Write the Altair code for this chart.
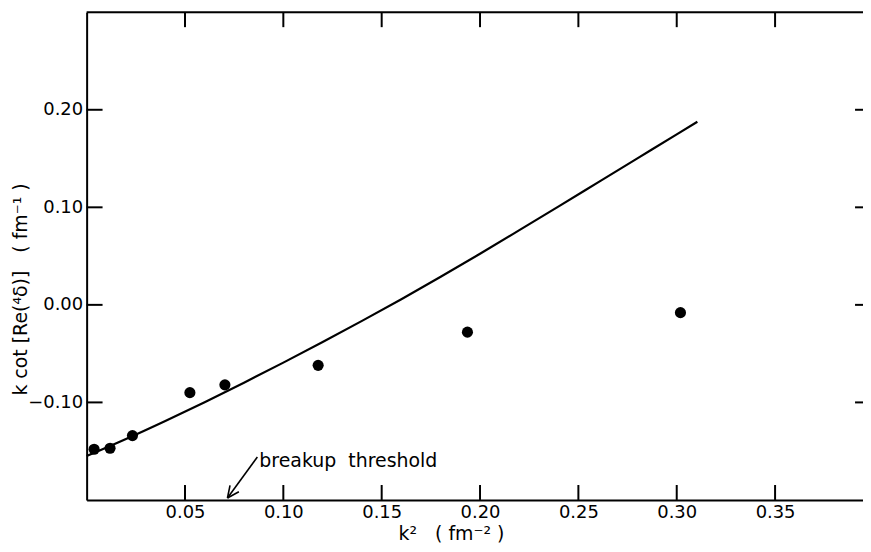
import altair as alt
import pandas as pd

# ---- data ----
pt_k2 = [0.0038, 0.0119, 0.0233, 0.0525, 0.0703, 0.1177, 0.1936, 0.3019]
pt_val = [-0.148, -0.147, -0.134, -0.090, -0.082, -0.062, -0.028, -0.008]

curve_k2 = [0.0, 0.02, 0.04, 0.06, 0.08, 0.10, 0.12, 0.14, 0.16, 0.18,
            0.20, 0.22, 0.24, 0.26, 0.28, 0.30, 0.3105]
curve_val = [-0.155, -0.1375, -0.119, -0.0998, -0.0798, -0.0592, -0.038,
             -0.0164, 0.0058, 0.0288, 0.0524, 0.0766, 0.1010, 0.1256,
             0.1502, 0.1748, 0.1877]

x_ticks = [0.05, 0.10, 0.15, 0.20, 0.25, 0.30, 0.35]
y_ticks = [-0.10, 0.00, 0.10, 0.20]

SP = "\u00a0"
ann_text = ["breakup" + SP * 2 + "threshold"]
ann_x = [0.0878]
ann_y = [-0.160]

x_title = "k²" + SP * 3 + "(" + SP + "fm⁻²" + SP + ")"
y_title = "k" + SP + "cot" + SP + "[Re(⁴δ)]" + SP * 3 + "(" + SP + "fm⁻¹" + SP + ")"

# arrow: shaft and two barbs (x, y, x2, y2)
arr_x = [0.0868, 0.0716, 0.0716]
arr_y = [-0.156, -0.198, -0.198]
arr_x2 = [0.0716, 0.0774, 0.0729]
arr_y2 = [-0.198, -0.1916, -0.185]

W, H = 780, 490
FONT = "DejaVu Sans"

xs = alt.Scale(domain=[0, 0.3947], nice=False, zero=False)
ys = alt.Scale(domain=[-0.2, 0.3], nice=False, zero=False)

pts_df = pd.DataFrame({"k2": pt_k2, "v": pt_val})
cur_df = pd.DataFrame({"k2": curve_k2, "v": curve_val})
xt_df = pd.DataFrame({"t": x_ticks})
yt_df = pd.DataFrame({"t": y_ticks})
one_df = pd.DataFrame({"a": [0]})
ann_df = pd.DataFrame({"x": ann_x, "y": ann_y, "s": ann_text})
arr_df = pd.DataFrame({"x": arr_x, "y": arr_y, "x2": arr_x2, "y2": arr_y2})

x_axis = alt.Axis(values=x_ticks, format=".2f", ticks=False, grid=False,
                  domainWidth=2, domainColor="black", labelFont=FONT,
                  labelFontSize=18, labelColor="black", labelPadding=4,
                  labelOverlap=False,
                  title=x_title, titleFont=FONT, titleFontSize=19,
                  titleFontWeight="normal", titleColor="black",
                  titleX=366, titleY=40, titleBaseline="alphabetic",
                  titleAlign="center")
y_axis = alt.Axis(values=y_ticks, format=".2f", ticks=False, grid=False,
                  domainWidth=2, domainColor="black", labelFont=FONT,
                  labelFontSize=18, labelColor="black", labelPadding=4,
                  labelOverlap=False,
                  title=y_title, titleFont=FONT,
                  titleFontSize=19, titleFontWeight="normal",
                  titleColor="black", titleAngle=270, titleX=-66, titleY=278,
                  titleAlign="center", titleBaseline="middle")

curve = alt.Chart(cur_df).mark_line(color="black", strokeWidth=2.2,
                                    interpolate="monotone").encode(
    x=alt.X("k2:Q", scale=xs, axis=x_axis),
    y=alt.Y("v:Q", scale=ys, axis=y_axis),
)

points = alt.Chart(pts_df).mark_circle(color="black", opacity=1, size=125).encode(
    x=alt.X("k2:Q", scale=xs),
    y=alt.Y("v:Q", scale=ys),
)

bottom_ticks = alt.Chart(xt_df).mark_rule(color="black", strokeWidth=2).encode(
    x=alt.X("t:Q", scale=xs), y=alt.value(H), y2=alt.value(H - 15))
top_ticks = alt.Chart(xt_df).mark_rule(color="black", strokeWidth=2).encode(
    x=alt.X("t:Q", scale=xs), y=alt.value(0), y2=alt.value(15))
left_ticks = alt.Chart(yt_df).mark_rule(color="black", strokeWidth=2).encode(
    y=alt.Y("t:Q", scale=ys), x=alt.value(0), x2=alt.value(16))
right_ticks = alt.Chart(yt_df).mark_rule(color="black", strokeWidth=2).encode(
    y=alt.Y("t:Q", scale=ys), x=alt.value(W - 8), x2=alt.value(W))
top_line = alt.Chart(one_df).mark_rule(color="black", strokeWidth=2).encode(
    x=alt.value(0), x2=alt.value(W), y=alt.value(0))

ann = alt.Chart(ann_df).mark_text(font=FONT, fontSize=19, align="left",
                                  baseline="middle", color="black").encode(
    x=alt.X("x:Q", scale=xs), y=alt.Y("y:Q", scale=ys), text="s:N")
arrow = alt.Chart(arr_df).mark_rule(color="black", strokeWidth=1.6).encode(
    x=alt.X("x:Q", scale=xs), y=alt.Y("y:Q", scale=ys),
    x2="x2:Q", y2="y2:Q")

chart = alt.layer(
    curve, points, bottom_ticks, top_ticks, left_ticks, right_ticks,
    top_line, ann, arrow
).properties(
    width=W, height=H,
    autosize=alt.AutoSizeParams(type="none"),
    padding={"left": 79, "top": 3, "right": 0, "bottom": 43},
).configure_view(stroke=None).configure(background="white")

chart.save("out.html", embed_options={"renderer": "svg", "actions": False})
